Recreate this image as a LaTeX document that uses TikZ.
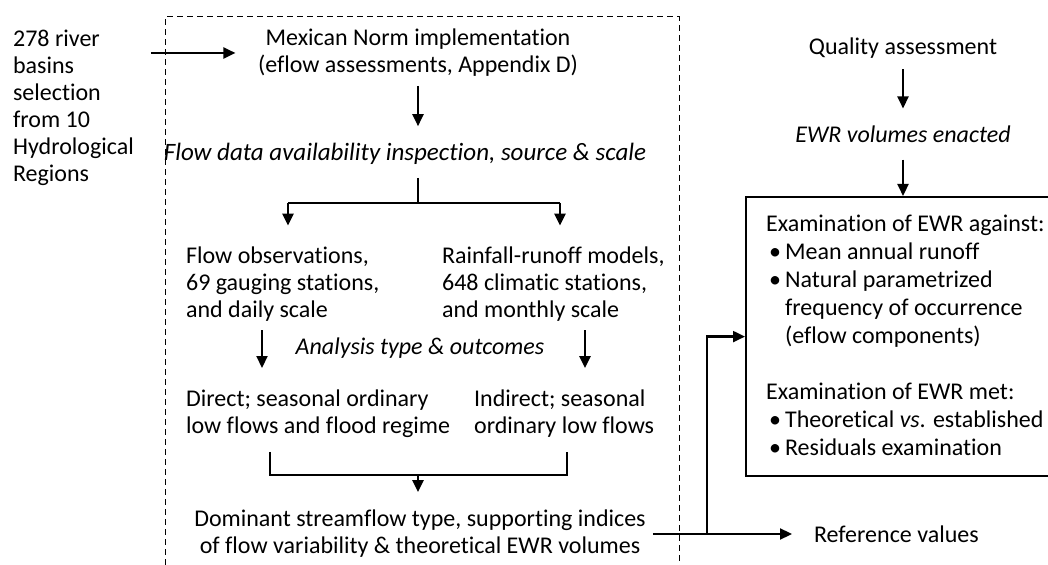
\documentclass[tikz,border=0pt]{standalone}
\usepackage{fontspec}
\setmainfont{Carlito}[RawFeature={-liga;-clig;-calt;-rlig;-dlig}]
\usetikzlibrary{arrows.meta}
\usetikzlibrary{positioning}

\newcommand{\itembul}{\makebox[9.5pt][l]{\hspace{1.5pt}\textbullet}}
\newcommand{\itemcont}{\hspace*{9.5pt}}

\tikzset{
  arr/.style={-{Triangle[length=6pt,width=5.5pt]}},
  ital/.style={font=\fontsize{12}{13.5}\selectfont\itshape},
  lefttext/.style={align=left, anchor=west}
}

\begin{document}
\begin{tikzpicture}[x=0.5pt, y=-0.5pt, every path/.style={line width=1.1pt}, every node/.style={font=\fontsize{12}{13.5}\selectfont, inner sep=3pt, align=center}]
\useasboundingbox (0,0) rectangle (1048,565);

% dashed frame
\draw[line width=0.5pt, dash pattern=on 3pt off 2pt] (165,575) -- (165,17) -- (679,17) -- (679,575);

\node[lefttext] (basins) at (6,108) {278 river\\basins\\selection\\from 10\\Hydrological\\Regions};
\node (mexican) at (418,53) {Mexican Norm implementation\\(eflow assessments, Appendix D)};
\node[ital, font=\fontsize{12.5}{13.5}\selectfont\itshape] (flowdata) at (405,154) {Flow data availability inspection, source \& scale};
\node[lefttext] (obs) at (179,284) {Flow observations,\\69 gauging stations,\\and daily scale};
\node[lefttext] (rain) at (435,284) {Rainfall-runoff models,\\648 climatic stations,\\and monthly scale};
\node[ital] (analysis) at (420,348) {Analysis type \& outcomes};
\node[lefttext] (direct) at (179,414) {Direct; seasonal ordinary\\low flows and flood regime};
\node[lefttext] (indirect) at (467,414) {Indirect; seasonal\\ordinary low flows};
\node (dominant) at (420,534) {Dominant streamflow type, supporting indices\\of flow variability \& theoretical EWR volumes};

\node (quality) at (903,48) {Quality assessment};
\node[ital] (enacted) at (903,134) {EWR volumes enacted};
\node[draw, anchor=north west, minimum width=162pt, minimum height=139.5pt] (exam) at (745,196) {};
\node[lefttext, font=\fontsize{12}{14}\selectfont] (examtext) at (759,335.5) {Examination of EWR against:\\
\itembul Mean annual runoff\\
\itembul Natural parametrized\\
\itemcont frequency of occurrence\\
\itemcont (eflow components)\\[14pt]
Examination of EWR met:\\
\itembul Theoretical \textit{vs}. established\\
\itembul Residuals examination};
\node[anchor=west] (refval) at (807,534) {Reference values};

\coordinate (split) at (418,203);
\coordinate (splitl) at (288,203);
\coordinate (splitr) at (560,203);
\coordinate (colL) at (262,0);
\coordinate (colR) at (585,0);
\coordinate (joinL) at (270,452);
\coordinate (joinR) at (567,452);
\coordinate (joinM) at (418,475);
\coordinate (branch) at (707,534);

\draw[arr, shorten <=5pt, shorten >=7.75pt] (basins.east |- mexican.west) -- (mexican.west);
\draw[arr, shorten <=1pt, shorten >=5pt] (mexican.south -| split) -- (flowdata.north -| split);
\draw[shorten <=3pt] (flowdata.south -| split) -- (split);
\draw (splitl) -- (splitr);
\draw[arr, shorten >=7pt] (splitl) -- (splitl |- obs.north);
\draw[arr, shorten >=7pt] (splitr) -- (splitr |- rain.north);
\draw[arr, shorten <=1pt, shorten >=7.5pt] (obs.south -| colL) -- (direct.north -| colL);
\draw[arr, shorten <=1pt, shorten >=7.5pt] (rain.south -| colR) -- (indirect.north -| colR);
\draw (joinL) |- (joinM) -| (joinR);
\draw[arr, shorten >=5.5pt] (joinM) -- (dominant.north -| joinM);
\draw[arr, shorten >=7.5pt] (dominant.east) -- (refval.west);
\draw[arr] (branch) |- (exam.west);

\draw[arr, shorten <=2pt, shorten >=5pt] (quality) -- (enacted);
\draw[arr, shorten <=5pt] (enacted) -- (enacted |- exam.north);
\end{tikzpicture}
\end{document}
